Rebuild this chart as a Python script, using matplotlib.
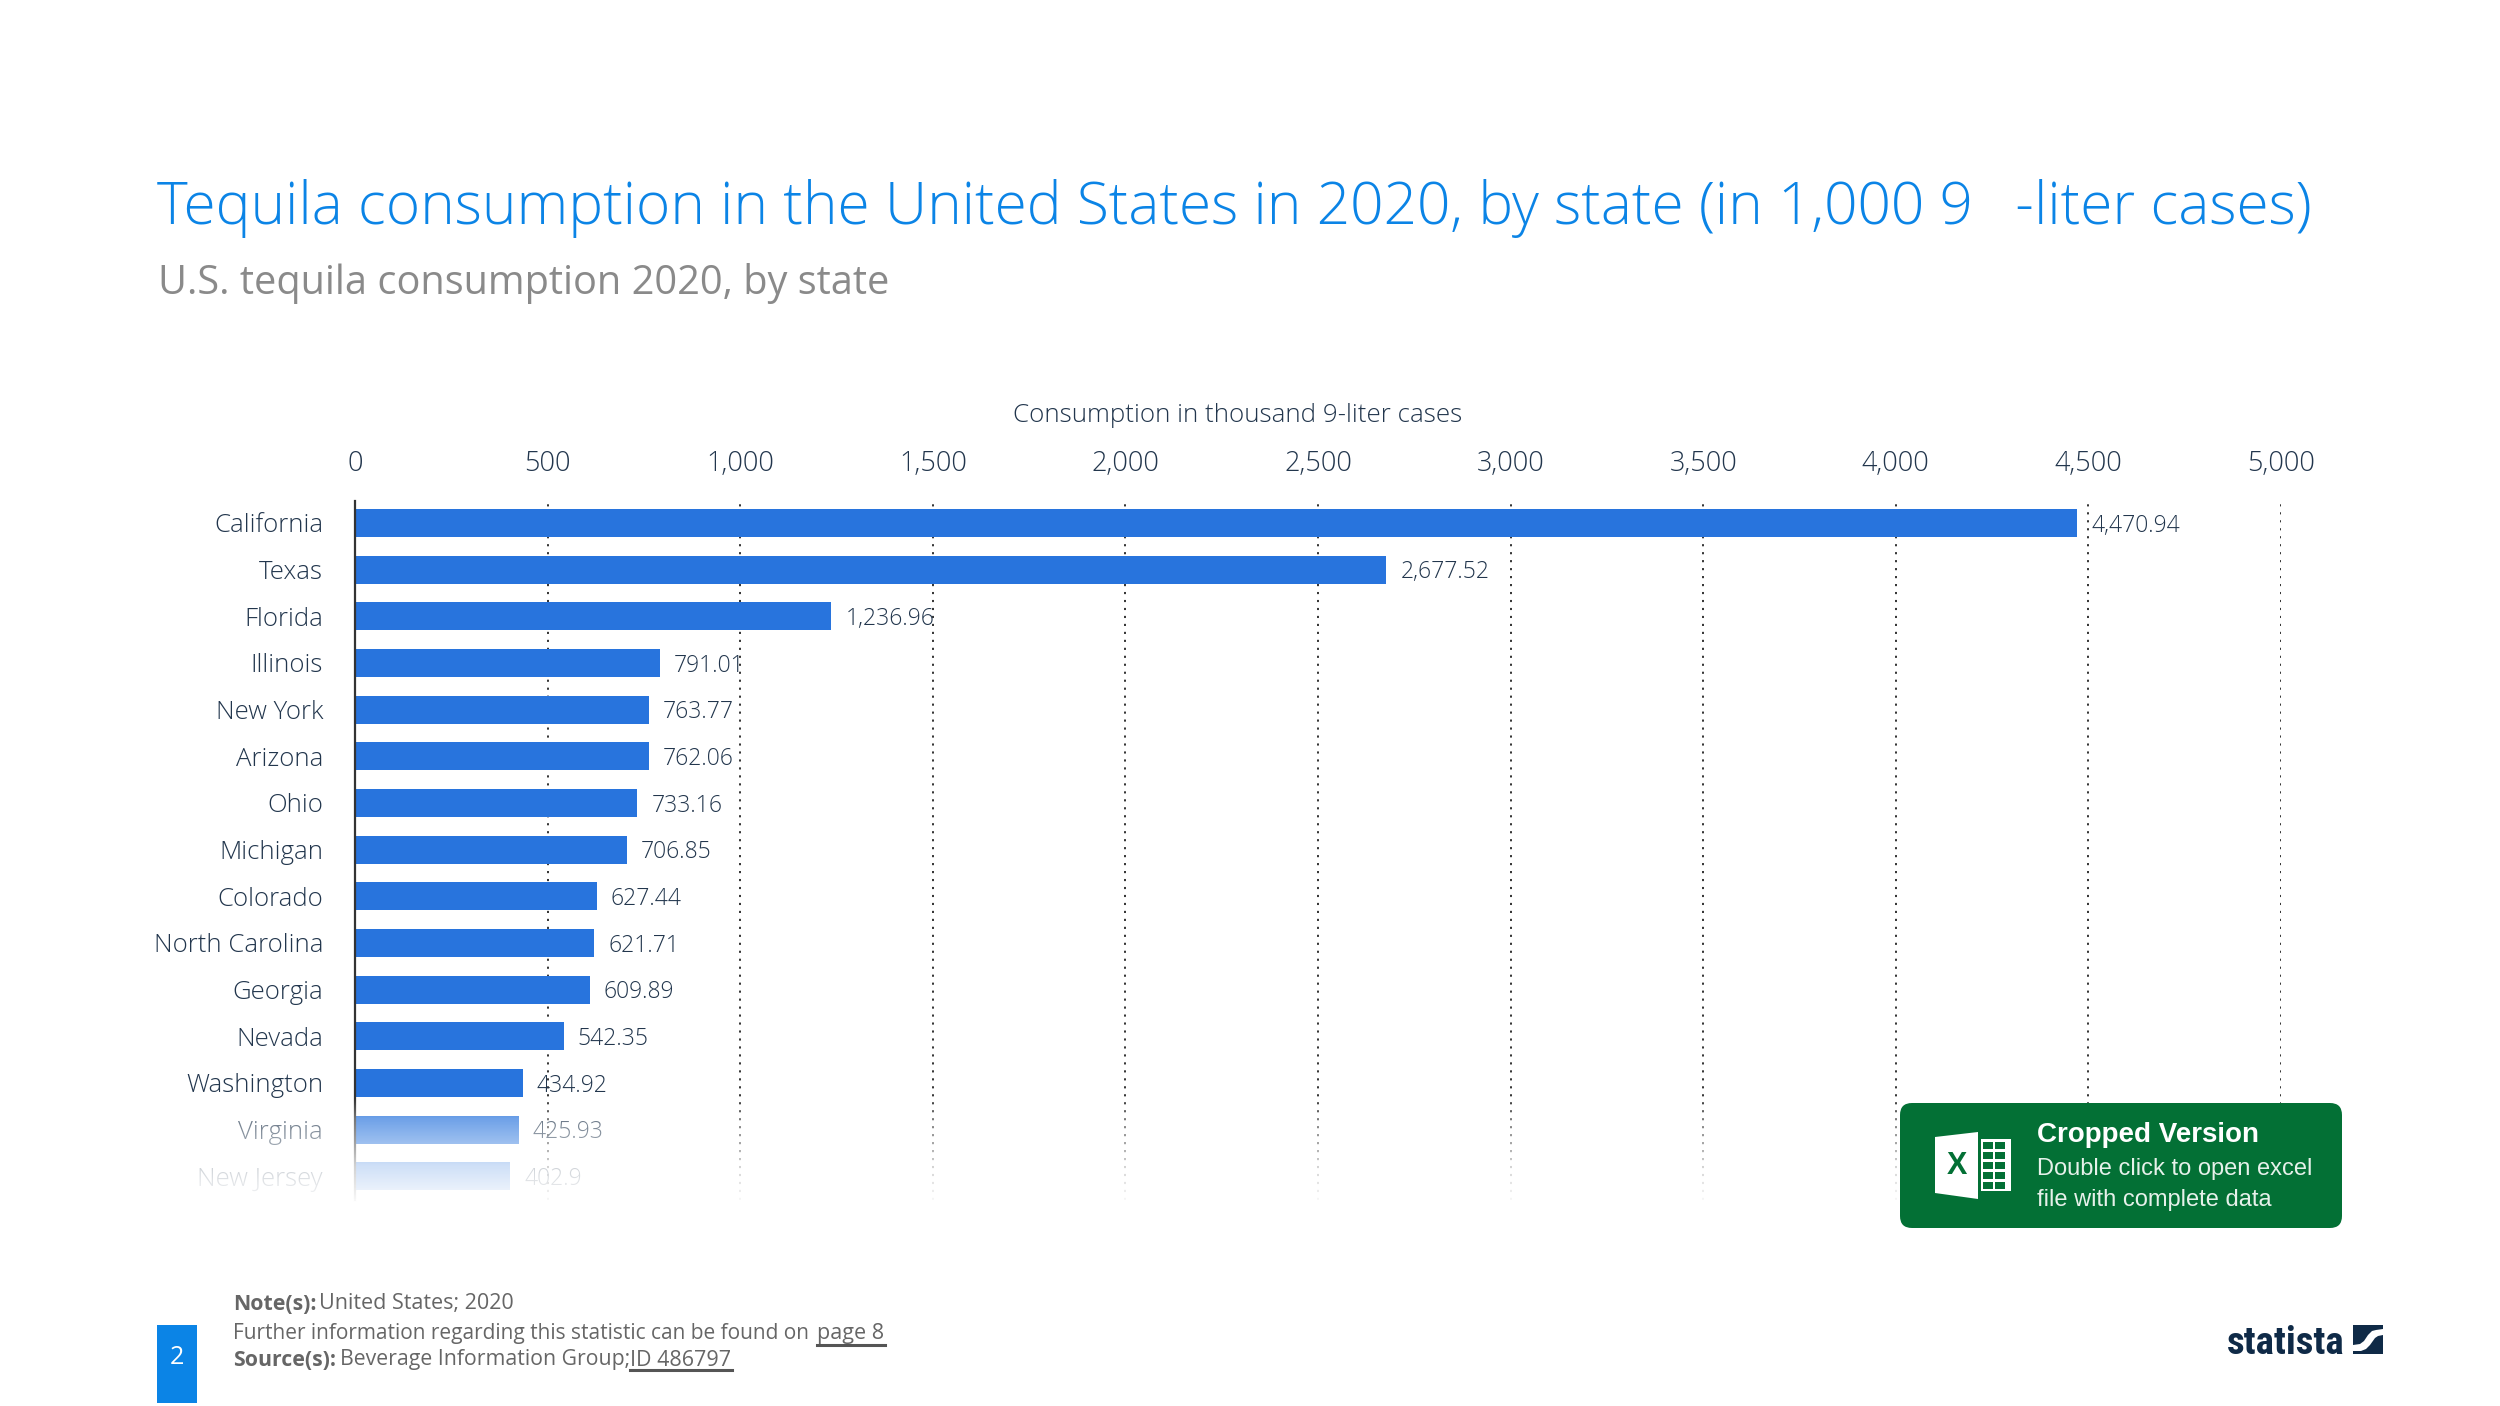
import numpy as np
import matplotlib
matplotlib.use("Agg")
import matplotlib.pyplot as plt
from matplotlib.patches import FancyBboxPatch, Polygon, Rectangle

states = ["California", "Texas", "Florida", "Illinois", "New York", "Arizona", "Ohio", "Michigan",
          "Colorado", "North Carolina", "Georgia", "Nevada", "Washington", "Virginia", "New Jersey"]
consumption = [4470.94, 2677.52, 1236.96, 791.01, 763.77, 762.06, 733.16, 706.85,
               627.44, 621.71, 609.89, 542.35, 434.92, 425.93, 402.9]
x_ticks = [0, 500, 1000, 1500, 2000, 2500, 3000, 3500, 4000, 4500, 5000]

W, H = 2500, 1406
plt.rcParams["font.family"] = ["Open Sans", "DejaVu Sans"]

NAVY = "#22364d"
BLUE = "#2874dd"
GREY = "#666666"
GREEN = "#037035"
LOGO = "#0f2a47"


def fmt(v):
    return f"{v:,.2f}".rstrip("0")


fig = plt.figure(figsize=(W / 100, H / 100), dpi=100, facecolor="white")

# chart area, pixel box 355..2281 / 501..1200
ax = fig.add_axes([355 / W, 1 - 1200 / H, (2281 - 355) / W, (1200 - 501) / H])
ax.barh(range(len(states)), consumption, height=0.6, color=BLUE, zorder=3)
ax.set_xlim(0, 5000)
ax.set_ylim(14.51, -0.47)
ax.xaxis.tick_top()
ax.set_xticks(x_ticks)
ax.set_xticklabels([f"{t:,}" for t in x_ticks], fontsize=19.5, color=NAVY, fontweight="light")
ax.set_yticks(range(len(states)))
ax.set_yticklabels(states, fontsize=18.5, color=NAVY, fontweight="light")
ax.tick_params(axis="x", length=0, pad=16.5)
ax.tick_params(axis="y", length=0, pad=23)
ax.grid(axis="x", color="#333333", linestyle=(0, (1.1, 3.0)), linewidth=1.4, zorder=1)
for s in ["top", "right", "bottom"]:
    ax.spines[s].set_visible(False)
ax.spines["left"].set_color("#333333")
ax.spines["left"].set_linewidth(1.6)
ax.spines["left"].set_zorder(4)
for i, v in enumerate(consumption):
    ax.annotate(fmt(v), (v, i), xytext=(10, -2), textcoords="offset points", va="center",
                fontsize=16.5, color=NAVY, fontweight="light", zorder=5)

# everything else is placed in image pixels
top = fig.add_axes([0, 0, 1, 1], zorder=5)
top.axis("off")
top.patch.set_alpha(0)

# white fade over the last rows
fade_y = np.arange(1090, 1226)
fade_a = np.interp(fade_y, [1098, 1118, 1146, 1165, 1193, 1205], [0, 0.33, 0.58, 0.78, 0.93, 1])
fade = np.ones((len(fade_y), 1, 4))
fade[:, 0, 3] = fade_a
top.imshow(fade, extent=(128, W, 1226, 1090), aspect="auto", zorder=1)
top.set_xlim(0, W)
top.set_ylim(H, 0)

top.text(157, 209, "Tequila consumption in the United States in 2020, by state (in 1,000 9  \u2009-liter cases)",
         fontsize=42.2, color="#0b84e6", fontweight="light", va="center")
top.text(158, 283, "U.S. tequila consumption 2020, by state", fontsize=28.6, color="#8a8a8a", va="center")
top.text(1238, 415, "Consumption in thousand 9-liter cases", fontsize=18.7, color=NAVY,
         fontweight="light", ha="center", va="center")

# footer
top.text(233, 1304, "Note(s):", fontsize=15.3, color=GREY, fontweight="bold", va="center")
top.text(319, 1304, "United States; 2020", fontsize=15.5, color=GREY, va="center")
top.text(233, 1334, "Further information regarding this statistic can be found on", fontsize=15, color=GREY, va="center")
top.text(817, 1334, "page 8", fontsize=15.5, color=GREY, va="center")
top.plot([817, 885], [1344.5, 1344.5], color="#555555", lw=2.2)
top.text(233, 1360, "Source(s):", fontsize=15.3, color=GREY, fontweight="bold", va="center")
top.text(340, 1360, "Beverage Information Group;", fontsize=15.3, color=GREY, va="center")
top.text(630, 1360, "ID 486797", fontsize=15.5, color=GREY, va="center")
top.plot([630, 732], [1369.5, 1369.5], color="#555555", lw=2.2)

# page number
top.add_patch(Rectangle((157, 1325), 40, 78, color="#0b84e6", lw=0))
top.text(177, 1358, "2", fontsize=18, color="white", ha="center", va="center")

# statista logo
top.text(2344, 1343, "statista", fontsize=28, color=LOGO, fontweight="bold", ha="right", va="center",
         family=["Roboto Condensed", "Liberation Sans Narrow", "Roboto"])
top.add_patch(Rectangle((2353, 1325), 30, 29, color=LOGO, lw=0))
top.add_patch(Polygon([(2353, 1345), (2360, 1344), (2364, 1341), (2368, 1335), (2372, 1331), (2376, 1330),
                       (2383, 1329), (2383, 1335), (2378, 1336), (2375, 1338), (2370, 1345), (2366, 1349),
                       (2361, 1351), (2353, 1351)], color="white", lw=0))

# excel button
top.add_patch(FancyBboxPatch((1912, 1115), 418, 101, boxstyle="round,pad=12,rounding_size=12",
                             facecolor=GREEN, edgecolor="none", zorder=6))
top.add_patch(Polygon([(1935, 1137), (1978, 1132), (1978, 1199), (1935, 1193)], color="white", lw=0, zorder=7))
top.text(1957, 1166, "X", fontsize=22, color=GREEN, fontweight="bold", ha="center", va="center",
         family=["Liberation Sans"], zorder=8)
top.add_patch(Rectangle((1981, 1139), 30, 52, color="white", lw=0, zorder=7))
for col_x in [1983, 1995]:
    for row_y in [1142, 1152, 1162, 1172, 1182]:
        top.add_patch(Rectangle((col_x, row_y), 10, 7, color=GREEN, lw=0, zorder=8))
top.text(2037, 1135, "Cropped Version", fontsize=20, color="white", fontweight="bold", va="center",
         family=["Liberation Sans"], zorder=8)
top.text(2037, 1169, "Double click to open excel", fontsize=17, color="#e6f1ea", va="center",
         family=["Liberation Sans"], zorder=8)
top.text(2037, 1200, "file with complete data", fontsize=17, color="#e6f1ea", va="center",
         family=["Liberation Sans"], zorder=8)

fig.savefig("out.png", dpi=100)
